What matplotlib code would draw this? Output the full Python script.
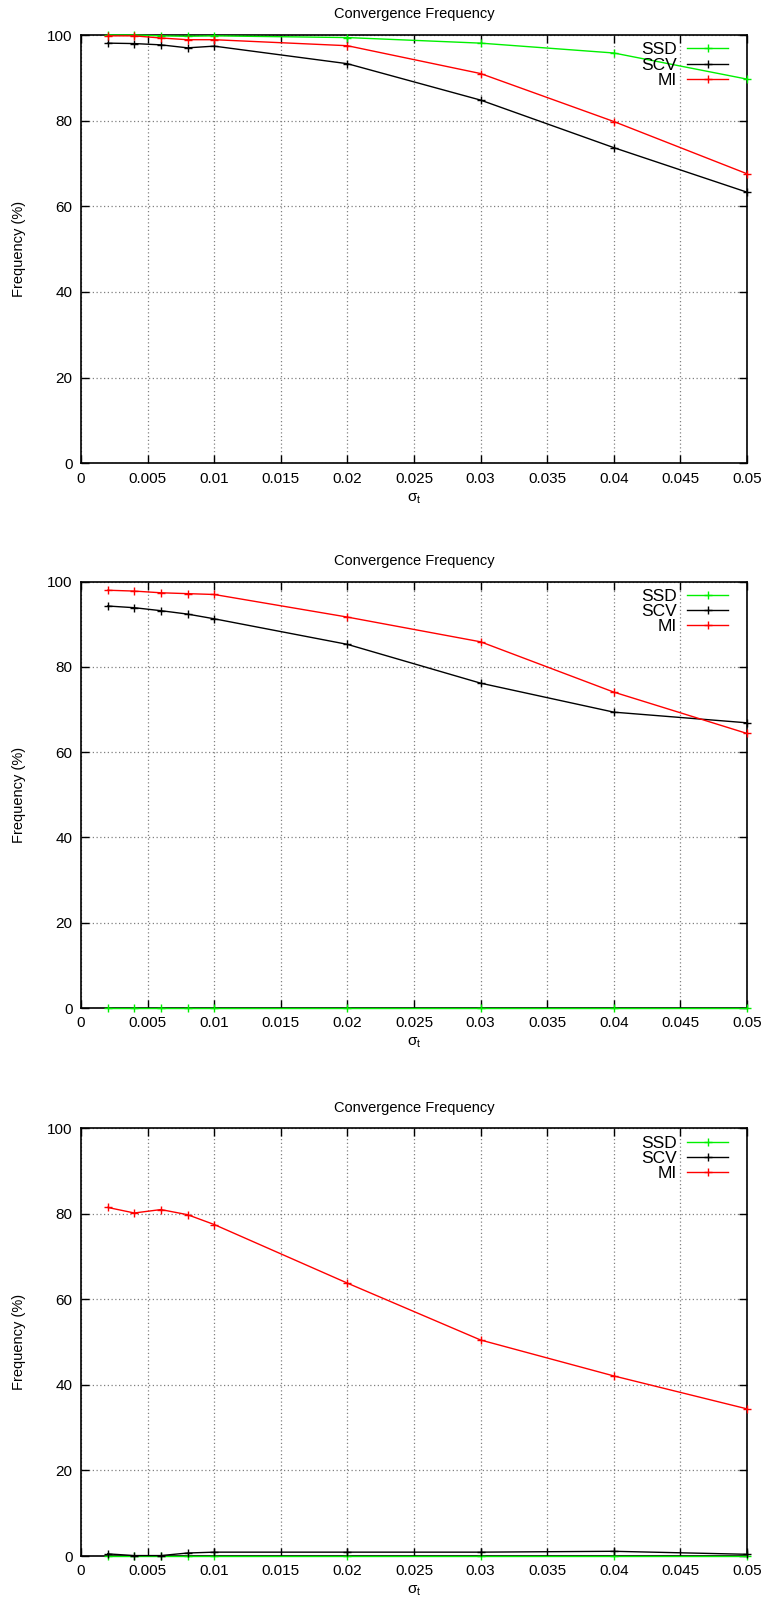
import matplotlib
matplotlib.use("Agg")
import matplotlib.pyplot as plt
from matplotlib.ticker import FixedLocator, FuncFormatter

plt.rcParams['font.family'] = ['Liberation Sans', 'DejaVu Sans']
plt.rcParams['mathtext.fontset'] = 'custom'
plt.rcParams['mathtext.rm'] = 'Liberation Sans'
plt.rcParams['mathtext.it'] = 'Liberation Sans'

sigma_t = [0.002, 0.004, 0.006, 0.008, 0.01, 0.02, 0.03, 0.04, 0.05]

p1_ssd = [100.0, 100.0, 99.8, 99.7, 99.8, 99.4, 98.1, 95.8, 89.7]
p1_scv = [98.1, 98.0, 97.7, 97.0, 97.4, 93.3, 84.8, 73.7, 63.3]
p1_mi = [99.8, 99.8, 99.3, 98.9, 98.9, 97.5, 91.0, 79.8, 67.6]

p2_ssd = [0.0, 0.0, 0.0, 0.0, 0.0, 0.0, 0.0, 0.0, 0.0]
p2_scv = [94.3, 93.9, 93.2, 92.4, 91.3, 85.3, 76.2, 69.4, 66.9]
p2_mi = [98.0, 97.8, 97.4, 97.2, 97.0, 91.7, 85.9, 74.1, 64.4]

p3_ssd = [0.0, 0.0, 0.0, 0.0, 0.0, 0.0, 0.0, 0.0, 0.0]
p3_scv = [0.5, 0.1, 0.1, 0.7, 0.9, 0.9, 0.9, 1.1, 0.4]
p3_mi = [81.5, 80.2, 81.0, 79.8, 77.5, 63.8, 50.5, 42.1, 34.4]

series_names = ["SSD", "SCV", "MI"]
series_colors = ["#00f000", "#000000", "#ff0000"]
panels = [(p1_ssd, p1_scv, p1_mi), (p2_ssd, p2_scv, p2_mi), (p3_ssd, p3_scv, p3_mi)]

x_ticks = [0, 0.005, 0.01, 0.015, 0.02, 0.025, 0.03, 0.035, 0.04, 0.045, 0.05]
y_ticks = [0, 20, 40, 60, 80, 100]

W, H = 764, 1605
fig = plt.figure(figsize=(W / 100, H / 100), dpi=100)

left = 81 / W
width = (747 - 81) / W
tops = [35, 581.7, 1128.3]
bottoms = [463.3, 1008, 1556]

for (vals, top, bot) in zip(panels, tops, bottoms):
    ax = fig.add_axes([left, 1 - bot / H, width, (bot - top) / H])
    for name, col, v in zip(series_names, series_colors, vals):
        ax.plot(sigma_t, v, color=col, lw=1.0, marker='+', markersize=6,
                markeredgewidth=1.0, label=name, clip_on=False, zorder=3)
    ax.set_xlim(0, 0.05)
    ax.set_ylim(0, 100)
    ax.xaxis.set_major_locator(FixedLocator(x_ticks))
    ax.yaxis.set_major_locator(FixedLocator(y_ticks))
    ax.xaxis.set_major_formatter(FuncFormatter(lambda v, p: "%g" % round(v, 4)))
    ax.yaxis.set_major_formatter(FuncFormatter(lambda v, p: "%g" % v))
    ax.tick_params(direction='in', length=6, width=1, top=True, right=True,
                   labelsize=11, pad=6)
    ax.grid(True, color='#808080', linestyle=(0, (1, 2)), linewidth=0.9)
    for s in ax.spines.values():
        s.set_linewidth(1.2)
    ax.set_title("Convergence Frequency", fontsize=10.5, pad=12)
    ax.set_xlabel(r"$\sigma_t$", fontsize=11, labelpad=4)
    ax.set_ylabel("Frequency (%)", fontsize=10.5, labelpad=15)
    ax.legend(loc='upper right', bbox_to_anchor=((728 - 81) / 666, 0.983),
              frameon=False, markerfirst=False,
              fontsize=12.5, handlelength=2.35, handletextpad=0.6,
              labelspacing=0.0, borderaxespad=0.0, borderpad=0.0)

fig.savefig("out.png", dpi=100)
